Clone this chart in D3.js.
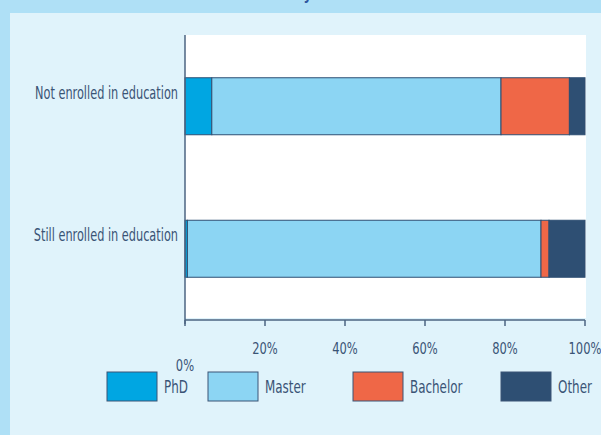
<!DOCTYPE html>
<html><head><meta charset="utf-8">
<script src="https://cdn.jsdelivr.net/npm/d3@7"></script>
<style>
html,body{margin:0;padding:0;background:#afe0f6;}
svg{display:block;}
text{font-family:"Liberation Sans Narrow","DejaVu Sans Condensed",Lato,sans-serif;fill:#3a5476;}
</style></head>
<body>
<script>
// ---- data ----
const categories = ["Not enrolled in education", "Still enrolled in education"];
const seriesNames = ["PhD", "Master", "Bachelor", "Other"];
const phd      = [6.7, 0.6];
const master   = [72.3, 88.4];
const bachelor = [17.1, 2.0];
const other    = [3.9, 9.0];
const tickValues = [0, 20, 40, 60, 80, 100];
const tickLabels = ["0%", "20%", "40%", "60%", "80%", "100%"];
const colors = ["#00a6e2", "#8cd5f3", "#ef6747", "#2e4f73"];

// ---- layout ----
const W = 601, H = 435;
const plot = {x0: 185, x1: 585, y0: 35, y1: 320};
const legendX = [107, 208, 353, 501];

const svg = d3.select("body").append("svg").attr("width", W).attr("height", H);

function squeeze(sel, k){
  sel.each(function(){
    const w = this.getComputedTextLength();
    d3.select(this).attr("textLength", w*k).attr("lengthAdjust","spacingAndGlyphs");
  });
}

svg.append("rect").attr("x",0).attr("y",0).attr("width",W).attr("height",H).attr("fill","#afe0f6");
svg.append("rect").attr("x",10).attr("y",13).attr("width",W-10).attr("height",H-13).attr("fill","#e0f3fb");

// title (cropped at top edge, as in the reference)
svg.append("text").attr("x",20).attr("y",-1.5)
  .style("font-size","18px").style("font-weight","bold").style("fill","#2f57a0")
  .text("Most recent education level attained by current status").call(squeeze, 0.8);

svg.append("rect").attr("x",plot.x0).attr("y",plot.y0).attr("width",plot.x1-plot.x0+1).attr("height",plot.y1-plot.y0-2).attr("fill","#ffffff");

const x = d3.scaleLinear().domain([0,100]).range([plot.x0, plot.x1]);
const y = d3.scaleBand().domain(categories).range([plot.y0, plot.y1]).paddingInner(0.6).paddingOuter(0.3);

const rows = categories.map((c,i)=>({cat:c, PhD:phd[i], Master:master[i], Bachelor:bachelor[i], Other:other[i]}));
const stack = d3.stack().keys(seriesNames)(rows);

stack.forEach((layer, li) => {
  svg.append("g").selectAll("rect").data(layer).join("rect")
    .attr("x", d => x(d[0]))
    .attr("y", d => y(d.data.cat))
    .attr("width", d => x(d[1]) - x(d[0]))
    .attr("height", y.bandwidth())
    .attr("fill", colors[li])
    .attr("stroke", "#2e4f73")
    .attr("stroke-width", 1);
});

// y axis
svg.append("line").attr("x1",plot.x0).attr("x2",plot.x0).attr("y1",plot.y0).attr("y2",plot.y1+4)
  .attr("stroke","#4d6582").attr("stroke-width",1.5);
svg.selectAll(".ylab").data(categories).join("text")
  .attr("x", 178).attr("y", d => y(d) + y.bandwidth()/2 - 7.5)
  .attr("text-anchor","end")
  .style("font-size","17px").text(d => d).call(squeeze, 0.74);

// x axis
svg.append("line").attr("x1",plot.x0).attr("x2",plot.x1).attr("y1",plot.y1).attr("y2",plot.y1)
  .attr("stroke","#4d6582").attr("stroke-width",1.5);
svg.selectAll(".xtick").data(tickValues).join("line")
  .attr("x1", d => x(d)).attr("x2", d => x(d))
  .attr("y1", plot.y1).attr("y2", plot.y1 + 6)
  .attr("stroke","#4d6582").attr("stroke-width",1.5);
svg.selectAll(".xlab").data(tickValues).join("text")
  .attr("x", d => x(d)).attr("y", (d,i) => i === 0 ? 371 : 354)
  .attr("text-anchor","middle")
  .style("font-size","16px").text((d,i) => tickLabels[i]).call(squeeze, 0.8);

// legend
seriesNames.forEach((s,i) => {
  svg.append("rect").attr("x",legendX[i]).attr("y",372).attr("width",50).attr("height",29)
    .attr("fill",colors[i]).attr("stroke","#3a5476").attr("stroke-width",1);
  svg.append("text").attr("x",legendX[i]+57).attr("y",393).style("font-size","17px").text(s).call(squeeze, 0.78);
});
</script>
</body></html>
